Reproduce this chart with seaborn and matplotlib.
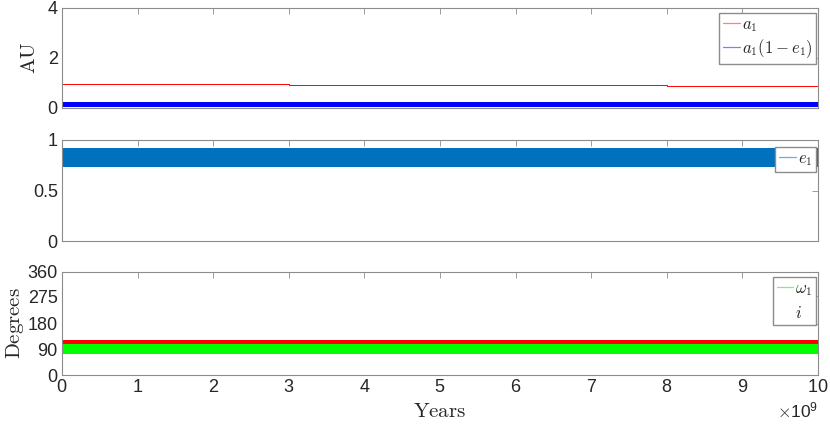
import numpy as np
import pandas as pd
import matplotlib
matplotlib.use("Agg")
import matplotlib.pyplot as plt
import seaborn as sns
from matplotlib.ticker import ScalarFormatter
from matplotlib.lines import Line2D

years = [0, 1e9, 2e9, 3e9, 4e9, 5e9, 6e9, 7e9, 8e9, 9e9, 1e10]
a1 = [0.96, 0.95, 0.95, 0.93, 0.93, 0.93, 0.91, 0.91, 0.88, 0.88, 0.88]
peri_lo = [0.05, 0.05, 0.05, 0.05, 0.05, 0.05, 0.05, 0.05, 0.05, 0.05, 0.05]
peri_hi = [0.23, 0.23, 0.23, 0.23, 0.23, 0.23, 0.23, 0.23, 0.23, 0.23, 0.23]
e1_lo = [0.73, 0.73, 0.73, 0.73, 0.73, 0.73, 0.73, 0.73, 0.73, 0.73, 0.73]
e1_hi = [0.92, 0.92, 0.92, 0.92, 0.92, 0.92, 0.92, 0.92, 0.92, 0.92, 0.92]
omega_lo = [73, 73, 73, 73, 73, 73, 73, 73, 73, 73, 73]
omega_hi = [110, 110, 110, 110, 110, 110, 110, 110, 110, 110, 110]
inc_lo = [110, 110, 110, 110, 110, 110, 110, 110, 110, 110, 110]
inc_hi = [124, 124, 124, 124, 124, 124, 124, 124, 124, 124, 124]

xticks = [0, 1e9, 2e9, 3e9, 4e9, 5e9, 6e9, 7e9, 8e9, 9e9, 1e10]
yticks_top = [0, 2, 4]
yticks_mid = [0, 0.5, 1]
yticks_bot = [0, 90, 180, 275, 360]

df = pd.DataFrame({"t": years, "a1": a1})

sns.set_theme(style="white")
plt.rcParams["font.family"] = ["Liberation Sans", "DejaVu Sans"]
plt.rcParams["mathtext.fontset"] = "cm"

fig = plt.figure(figsize=(8.3, 4.24), dpi=100)
L, W = 62 / 830, (818 - 62) / 830
ax1 = fig.add_axes([L, 1 - 108 / 424, W, 100 / 424])
ax2 = fig.add_axes([L, 1 - 241 / 424, W, 101 / 424])
ax3 = fig.add_axes([L, 1 - 375 / 424, W, 103 / 424])

leg_kw = dict(loc="upper right", fontsize=12, handlelength=1.0, handletextpad=0.1,
              borderpad=0.25, borderaxespad=0, fancybox=False, framealpha=1,
              edgecolor="#8c8c8c")

# panneau 1 : demi-grand axe et péricentre
sns.lineplot(data=df, x="t", y="a1", ax=ax1, color="#ff0000", lw=0.7,
             drawstyle="steps-post")
ax1.fill_between(years, peri_lo, peri_hi, color="#0000ff", lw=0)
ax1.set_ylim(0, 4)
ax1.set_yticks(yticks_top)
ax1.set_ylabel(r"$\mathrm{AU}$", fontsize=15, labelpad=6)
h1 = [Line2D([], [], color="#ff8080", lw=0.9), Line2D([], [], color="#8080ff", lw=0.9)]
ax1.legend(h1, [r"$a_1$", r"$a_1(1-e_1)$"], labelspacing=0.2,
           bbox_to_anchor=(0.998, 0.95), **leg_kw)

# panneau 2 : excentricité
ax2.fill_between(years, e1_lo, e1_hi, color="#0072bd", lw=0)
ax2.set_ylim(0, 1)
ax2.set_yticks(yticks_mid)
ax2.set_yticklabels(["0", "0.5", "1"])
h2 = [Line2D([], [], color="#59b5e6", lw=0.9)]
ax2.legend(h2, [r"$e_1$"], bbox_to_anchor=(0.998, 0.93), **leg_kw)

# panneau 3 : angles
ax3.fill_between(years, inc_lo, inc_hi, color="#ff0000", lw=0)
ax3.fill_between(years, omega_lo, omega_hi, color="#00ff00", lw=0)
ax3.set_ylim(0, 360)
ax3.set_yticks(yticks_bot)
ax3.set_ylabel(r"$\mathrm{Degrees}$", fontsize=15, labelpad=1)
ax3.set_xlabel(r"$\mathrm{Years}$", fontsize=15, labelpad=4)
h3 = [Line2D([], [], color="#66ff66", lw=0.9), Line2D([], [], color="none", lw=0.9)]
ax3.legend(h3, [r"$\omega_1$", r"$i$"], labelspacing=0.4,
           bbox_to_anchor=(0.998, 0.95), **leg_kw)

fmt = ScalarFormatter(useMathText=True)
fmt.set_powerlimits((9, 9))

for ax in (ax1, ax2, ax3):
    ax.set_xlim(0, 1e10)
    ax.set_xticks(xticks)
    ax.tick_params(direction="in", length=4, width=0.6, top=True, right=True,
                   labelsize=13, colors="#8c8c8c", labelcolor="#262626", pad=3)
    for s in ax.spines.values():
        s.set_color("#8c8c8c")
        s.set_linewidth(0.8)
    if ax is not ax3:
        ax.set_xlabel("")
        ax.tick_params(labelbottom=False)
    ax.set_ylabel(ax.get_ylabel(), color="#262626")

ax3.xaxis.set_major_formatter(fmt)
ax3.xaxis.get_offset_text().set_fontsize(12.5)
ax3.xaxis.get_offset_text().set_color("#262626")
ax3.set_xlabel(ax3.get_xlabel(), color="#262626")

fig.savefig("out.png", dpi=100)
